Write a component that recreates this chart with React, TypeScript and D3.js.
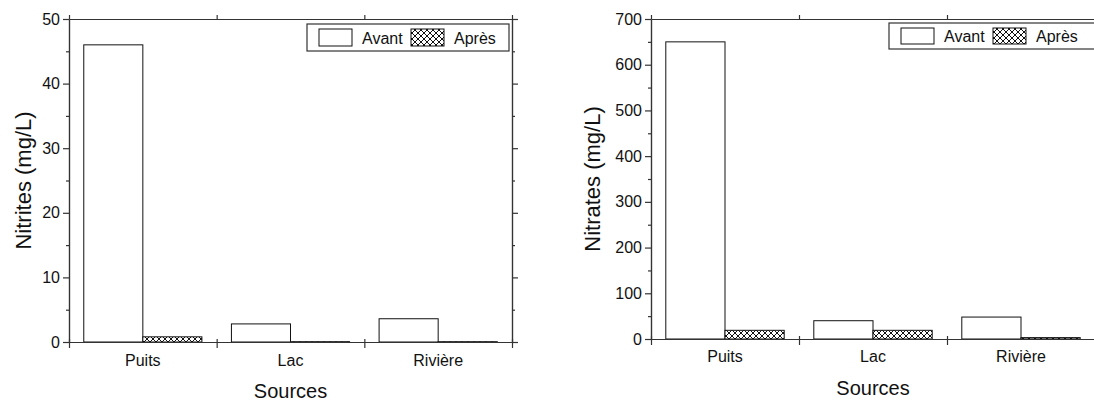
import React, { useRef, useEffect } from "react";
import * as d3 from "d3";

// values
const sources = ["Puits", "Lac", "Rivière"];
const seriesNames = ["Avant", "Après"];
const nitritesAvant = [46, 2.8, 3.6];
const nitritesApres = [0.8, 0.05, 0.05];
const nitratesAvant = [650, 40, 48];
const nitratesApres = [19, 19, 3];
const nitritesTicks = [0, 10, 20, 30, 40, 50];
const nitratesTicks = [0, 100, 200, 300, 400, 500, 600, 700];

const FONT = "Liberation Sans, Arial, sans-serif";
const AXIS = "#333";

type Panel = {
  x0: number;
  x1: number;
  y0: number; // bottom
  y1: number; // top
  yMax: number;
  ticks: number[];
  minorStep: number;
  avant: number[];
  apres: number[];
  yLabel: string;
  yLabelX: number;
  xTitleY: number;
  tickLabelY: number;
  legend: { x: number; y: number; w: number; h: number };
};

const panels: Panel[] = [
  {
    x0: 69, x1: 512, y0: 342, y1: 19, yMax: 50, ticks: nitritesTicks, minorStep: 5,
    avant: nitritesAvant, apres: nitritesApres, yLabel: "Nitrites (mg/L)", yLabelX: 31,
    xTitleY: 398, tickLabelY: 366, legend: { x: 307, y: 24, w: 202, h: 27 },
  },
  {
    x0: 651, x1: 1095, y0: 339, y1: 19, yMax: 700, ticks: nitratesTicks, minorStep: 50,
    avant: nitratesAvant, apres: nitratesApres, yLabel: "Nitrates (mg/L)", yLabelX: 600,
    xTitleY: 395, tickLabelY: 362, legend: { x: 889, y: 23, w: 215, h: 26 },
  },
];

function drawPanel(svg: d3.Selection<SVGSVGElement, unknown, null, undefined>, p: Panel) {
  const g = svg.append("g");
  const x = d3.scaleBand<string>().domain(sources).range([p.x0, p.x1]).padding(0);
  const xs = d3.scaleBand<string>().domain(seriesNames).range([0, x.bandwidth()]).paddingInner(0).paddingOuter(0.25);
  const y = d3.scaleLinear().domain([0, p.yMax]).range([p.y0, p.y1]);

  // bars
  sources.forEach((s, i) => {
    [p.avant[i], p.apres[i]].forEach((v, j) => {
      const name = seriesNames[j];
      g.append("rect")
        .attr("x", (x(s) as number) + (xs(name) as number))
        .attr("y", y(v))
        .attr("width", xs.bandwidth())
        .attr("height", Math.max(0.5, y(0) - y(v)))
        .attr("fill", j === 0 ? "#fff" : "url(#xhatch)")
        .attr("stroke", "#111")
        .attr("stroke-width", 1);
    });
  });

  const minors = d3.range(0, p.yMax + 0.001, p.minorStep).filter((v) => !p.ticks.includes(v));

  // left axis
  const left = g.append("g").attr("transform", `translate(${p.x0},0)`);
  left.call(d3.axisLeft(y).tickValues(p.ticks).tickSize(6).tickPadding(3).tickSizeOuter(0));
  left.append("g").call(d3.axisLeft(y).tickValues(minors).tickSize(3).tickFormat(() => "").tickSizeOuter(0));
  // right mirror
  const right = g.append("g").attr("transform", `translate(${p.x1},0)`);
  right.call(d3.axisRight(y).tickValues(p.ticks).tickSize(6).tickFormat(() => "").tickSizeOuter(0));
  right.append("g").call(d3.axisRight(y).tickValues(minors).tickSize(3).tickFormat(() => "").tickSizeOuter(0));

  // bottom and top lines with ticks at band boundaries
  const bounds = sources.map((s) => x(s) as number).concat([p.x1]);
  const bx = d3.scaleLinear().domain([p.x0, p.x1]).range([p.x0, p.x1]);
  const bottom = g.append("g").attr("transform", `translate(0,${p.y0})`);
  bottom.call(d3.axisBottom(bx).tickValues(bounds).tickSize(6).tickFormat(() => "").tickSizeOuter(0));
  bottom.selectAll(".tick line").attr("y1", -3);
  const top = g.append("g").attr("transform", `translate(0,${p.y1})`);
  top.call(d3.axisTop(bx).tickValues(bounds).tickSize(4).tickFormat(() => "").tickSizeOuter(0));

  g.selectAll(".domain, .tick line").attr("stroke", AXIS).attr("stroke-width", 1.2);
  g.selectAll(".tick text").attr("font-family", FONT).attr("font-size", 16).attr("fill", "#111");

  // category labels
  sources.forEach((s) => {
    g.append("text")
      .attr("x", (x(s) as number) + x.bandwidth() / 2)
      .attr("y", p.tickLabelY)
      .attr("text-anchor", "middle")
      .attr("font-family", FONT)
      .attr("font-size", 16)
      .attr("fill", "#111")
      .text(s);
  });

  // titles
  g.append("text")
    .attr("x", (p.x0 + p.x1) / 2)
    .attr("y", p.xTitleY)
    .attr("text-anchor", "middle")
    .attr("font-family", FONT)
    .attr("font-size", 20)
    .attr("fill", "#111")
    .text("Sources");
  g.append("text")
    .attr("transform", `translate(${p.yLabelX},${(p.y0 + p.y1) / 2}) rotate(-90)`)
    .attr("text-anchor", "middle")
    .attr("font-family", FONT)
    .attr("font-size", 22)
    .attr("fill", "#111")
    .text(p.yLabel);

  // legend
  const L = p.legend;
  const lg = g.append("g").attr("transform", `translate(${L.x},${L.y})`);
  lg.append("rect").attr("width", L.w).attr("height", L.h).attr("fill", "#fff").attr("stroke", AXIS).attr("stroke-width", 1.2);
  const sw = [12, 104];
  seriesNames.forEach((name, j) => {
    lg.append("rect")
      .attr("x", sw[j])
      .attr("y", 5)
      .attr("width", 33)
      .attr("height", L.h - 10)
      .attr("fill", j === 0 ? "#fff" : "url(#xhatch)")
      .attr("stroke", "#111");
    lg.append("text")
      .attr("x", sw[j] + 43)
      .attr("y", L.h / 2 + 6)
      .attr("font-family", FONT)
      .attr("font-size", 16)
      .attr("fill", "#111")
      .text(name);
  });
}

function Charts() {
  const svgRef = useRef<SVGSVGElement>(null);

  useEffect(() => {
    const svg = d3.select(svgRef.current as SVGSVGElement);
    svg.selectAll("*").remove();

    const pat = svg.append("defs").append("pattern")
      .attr("id", "xhatch")
      .attr("patternUnits", "userSpaceOnUse")
      .attr("width", 6)
      .attr("height", 6);
    pat.append("rect").attr("width", 6).attr("height", 6).attr("fill", "#fff");
    pat.append("path").attr("d", "M0,0L6,6M6,0L0,6").attr("stroke", "#111").attr("stroke-width", 1);

    panels.forEach((p) => drawPanel(svg, p));
  }, []);

  return (
    <svg
      ref={svgRef}
      width={1094}
      height={401}
      style={{ position: "absolute", left: 0, top: 0, background: "#fff" }}
    />
  );
}

export default function App() {
  return <Charts />;
}
